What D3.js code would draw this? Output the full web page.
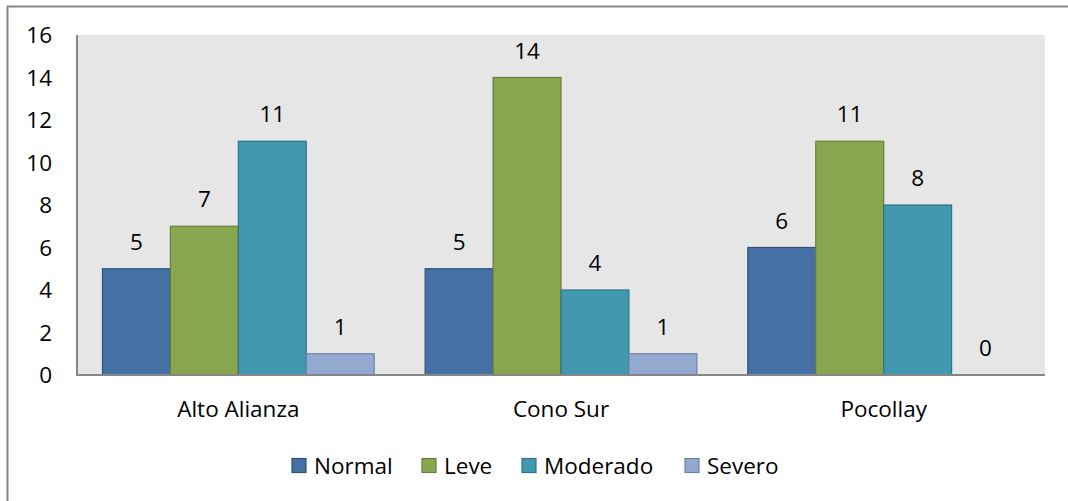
<!DOCTYPE html>
<html>
<head>
<meta charset="utf-8">
<style>
  body { margin: 0; background: #fff; }
  svg text { font-family: "Open Sans", Lato, sans-serif; fill: #000; }
</style>
</head>
<body>
<svg width="1068" height="501"></svg>
<script src="https://cdn.jsdelivr.net/npm/d3@7"></script>
<script>

var categories = ["Alto Alianza", "Cono Sur", "Pocollay"];
var series = ["Normal", "Leve", "Moderado", "Severo"];
var normal = [5, 5, 6],
    leve = [7, 14, 11],
    moderado = [11, 4, 8],
    severo = [1, 1, 0];
var yTicks = [0, 2, 4, 6, 8, 10, 12, 14, 16];

var fills = ["#4470A5", "#89A54E", "#4198AF", "#93A9CF"],
    strokes = ["#2F5179", "#65803A", "#2D7488", "#6E82A6"];

var values = [normal, leve, moderado, severo];
var data = categories.map(function(c, i) {
  return { cat: c, vals: series.map(function(s, j) { return { key: s, j: j, v: values[j][i] }; }) };
});

var svg = d3.select("svg"),
    fontSize = "22.5px";

// outer chart border
svg.append("rect")
    .attr("x", 7.5).attr("y", 6.5)
    .attr("width", 1100).attr("height", 520)
    .attr("fill", "#fff")
    .attr("stroke", "#868686").attr("stroke-width", 2);

var plotLeft = 77, plotRight = 1045, plotTop = 35, plotBottom = 375;

var x0 = d3.scaleBand().domain(categories).range([plotLeft, plotRight]);
var x1 = d3.scaleBand().domain(series).range([0, x0.bandwidth()])
    .paddingInner(0).paddingOuter(0.375);
var y = d3.scaleLinear().domain([0, 16]).range([plotBottom, plotTop]);

// plot area background
svg.append("rect")
    .attr("x", plotLeft).attr("y", plotTop)
    .attr("width", plotRight - plotLeft).attr("height", plotBottom - plotTop)
    .attr("fill", "#E6E6E6");

var groups = svg.append("g").selectAll("g")
  .data(data)
  .join("g")
    .attr("transform", function(d) { return "translate(" + x0(d.cat) + ",0)"; });

groups.selectAll("rect")
  .data(function(d) { return d.vals; })
  .join("rect")
    .attr("x", function(d) { return x1(d.key); })
    .attr("y", function(d) { return y(d.v); })
    .attr("width", x1.bandwidth())
    .attr("height", function(d) { return y(0) - y(d.v); })
    .attr("fill", function(d) { return fills[d.j]; })
    .attr("stroke", function(d) { return strokes[d.j]; })
    .attr("stroke-width", 1.2);

groups.selectAll("text")
  .data(function(d) { return d.vals; })
  .join("text")
    .attr("x", function(d) { return x1(d.key) + x1.bandwidth() / 2; })
    .attr("y", function(d) { return y(d.v) - 19; })
    .attr("text-anchor", "middle")
    .style("font-size", fontSize)
    .text(function(d) { return d.v; });

// axes lines
svg.append("line")
    .attr("x1", plotLeft).attr("x2", plotLeft)
    .attr("y1", plotTop).attr("y2", plotBottom)
    .attr("stroke", "#868686").attr("stroke-width", 2);
svg.append("line")
    .attr("x1", plotLeft - 1).attr("x2", plotRight)
    .attr("y1", plotBottom).attr("y2", plotBottom)
    .attr("stroke", "#868686").attr("stroke-width", 2);

// y tick labels
svg.append("g").selectAll("text")
  .data(yTicks)
  .join("text")
    .attr("x", 52)
    .attr("y", function(d) { return y(d) + 8; })
    .attr("text-anchor", "end")
    .style("font-size", fontSize)
    .text(function(d) { return d; });

// category labels
svg.append("g").selectAll("text")
  .data(categories)
  .join("text")
    .attr("x", function(d) { return x0(d) + x0.bandwidth() / 2; })
    .attr("y", 417)
    .attr("text-anchor", "middle")
    .style("font-size", fontSize)
    .text(function(d) { return d; });

// legend
var legendX = [292, 422, 522, 685];
var legend = svg.append("g").selectAll("g")
  .data(series)
  .join("g")
    .attr("transform", function(d, i) { return "translate(" + legendX[i] + ",458.5)"; });
legend.append("rect")
    .attr("width", 14).attr("height", 14)
    .attr("fill", function(d, i) { return fills[i]; })
    .attr("stroke", function(d, i) { return strokes[i]; })
    .attr("stroke-width", 1.2);
legend.append("text")
    .attr("x", 22).attr("y", 15)
    .style("font-size", fontSize)
    .text(function(d) { return d; });

</script>
</body>
</html>
